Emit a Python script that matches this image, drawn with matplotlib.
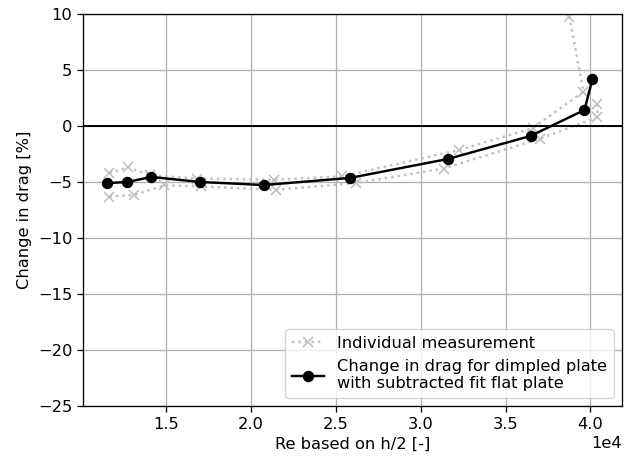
import matplotlib
matplotlib.use("Agg")
import matplotlib.pyplot as plt

# Individual measurements (Reynolds number, change in drag in %)
re_meas_a = [11650, 12760, 14060, 16820, 21350, 25350, 32240, 36590, 39590, 38760]
drag_meas_a = [-4.2, -3.7, -4.4, -4.7, -4.8, -4.5, -2.15, -0.2, 3.07, 9.75]

re_meas_b = [11650, 13120, 14880, 17060, 21470, 26180, 31350, 37000, 40410, 40410]
drag_meas_b = [-6.3, -6.15, -5.3, -5.4, -5.7, -5.1, -3.8, -1.15, 0.78, 2.0]

# Drag change for the dimpled plate with the flat plate fit subtracted
re_mean = [11530, 12710, 14120, 17000, 20760, 25820, 31590, 36470, 39650, 40120]
drag_mean = [-5.1, -5.0, -4.55, -5.0, -5.27, -4.64, -2.95, -0.89, 1.43, 4.2]

s = 1.17
plt.rcParams.update({
    "font.size": 10 * s,
    "axes.linewidth": 0.8 * s,
    "grid.linewidth": 0.8 * s,
    "xtick.major.size": 3.5 * s,
    "ytick.major.size": 3.5 * s,
    "xtick.major.width": 0.8 * s,
    "ytick.major.width": 0.8 * s,
    "lines.markeredgewidth": 1.0 * s,
})

fig = plt.figure(figsize=(6.32, 4.58), dpi=100)
ax = fig.add_axes([0.131, 0.1135, 0.853, 0.856])

ax.plot(re_meas_a, drag_meas_a, linestyle=":", marker="x", color="silver",
        markersize=6 * s, linewidth=1.5 * s, label="Individual measurement")
ax.plot(re_meas_b, drag_meas_b, linestyle=":", marker="x", color="silver",
        markersize=6 * s, linewidth=1.5 * s)
ax.plot(re_mean, drag_mean, linestyle="-", marker="o", color="black",
        markersize=6 * s, linewidth=1.5 * s,
        label="Change in drag for dimpled plate\nwith subtracted fit flat plate")
ax.axhline(0, color="black", linewidth=1.2 * s)

ax.set_ylim(-25, 10)
ax.set_yticks(range(-25, 11, 5))
ax.ticklabel_format(axis="x", style="sci", scilimits=(4, 4))
ax.grid(True)
ax.set_xlabel("Re based on h/2 [-]")
ax.set_ylabel("Change in drag [%]")
ax.legend(loc="lower right")

fig.savefig("out.png", dpi=100)
